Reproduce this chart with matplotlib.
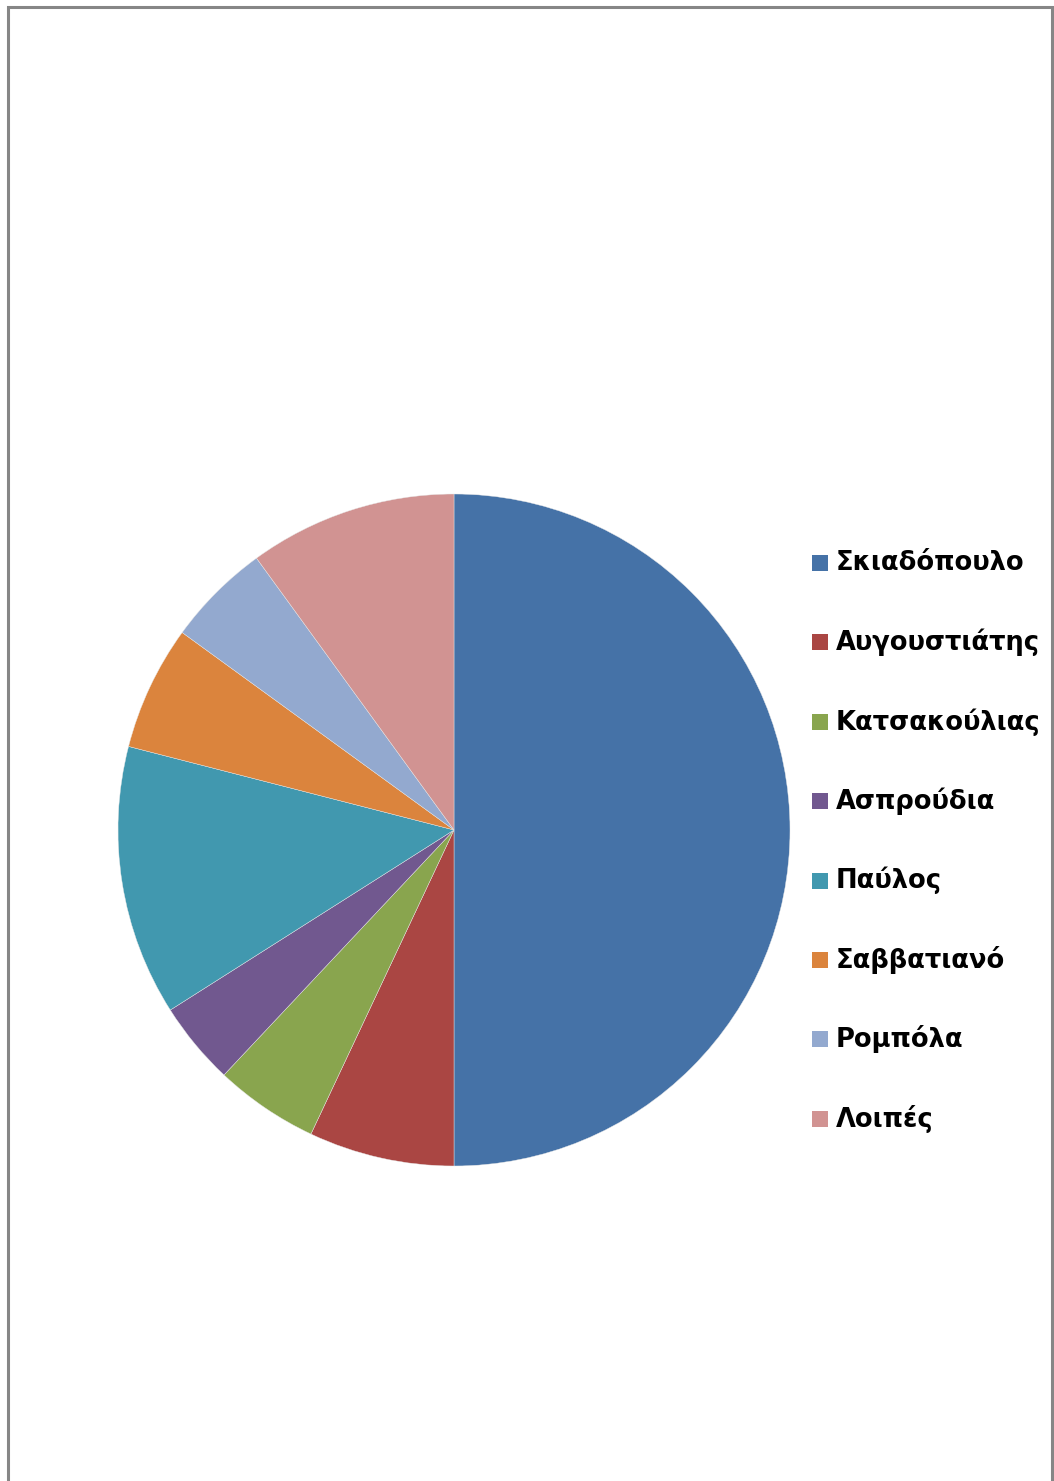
import matplotlib.pyplot as plt
from matplotlib.patches import Rectangle

# ποικιλίες και ποσοστά (%)
labels = ['Σκιαδόπουλο', 'Αυγουστιάτης', 'Κατσακούλιας', 'Ασπρούδια',
          'Παύλος', 'Σαββατιανό', 'Ρομπόλα', 'Λοιπές']
values = [50, 7, 5, 4, 13, 6, 5, 10]
colors = ['#4572A7', '#AA4643', '#89A54E', '#71588F',
          '#4198AF', '#DB843D', '#93A9CF', '#D19392']

W, H = 1054, 1481
fig = plt.figure(figsize=(W / 100, H / 100), dpi=100)

# πλαίσιο γραφήματος
fig.patches.append(Rectangle((8 / W, -0.01), (1052 - 8) / W, (1 - 7 / H) + 0.01,
                             transform=fig.transFigure, fill=False,
                             edgecolor='#868686', linewidth=2.2))

cx, cy, r = 454, 830, 336
ax = fig.add_axes([(cx - r) / W, (H - cy - r) / H, 2 * r / W, 2 * r / H])
wedges, _ = ax.pie(values, colors=colors, startangle=90, counterclock=False,
                   radius=1, wedgeprops=dict(linewidth=0.3, edgecolor='#e8e8e8'))
ax.set_xlim(-1, 1)
ax.set_ylim(-1, 1)
ax.set_aspect('equal')
ax.axis('off')

# υπόμνημα (χειροκίνητα, για ακριβή θέσεις)
y0, step, sq = 563, 79.4, 16
for i, (lab, c) in enumerate(zip(labels, colors)):
    yc = y0 + i * step
    fig.patches.append(Rectangle((812 / W, 1 - (yc + sq / 2) / H), sq / W, sq / H,
                                 transform=fig.transFigure, facecolor=c,
                                 edgecolor='none'))
    fig.text(836 / W, 1 - yc / H, lab, va='center', ha='left',
             fontsize=18.5, fontweight='bold', family='DejaVu Sans')

fig.savefig('out.png', dpi=100)
